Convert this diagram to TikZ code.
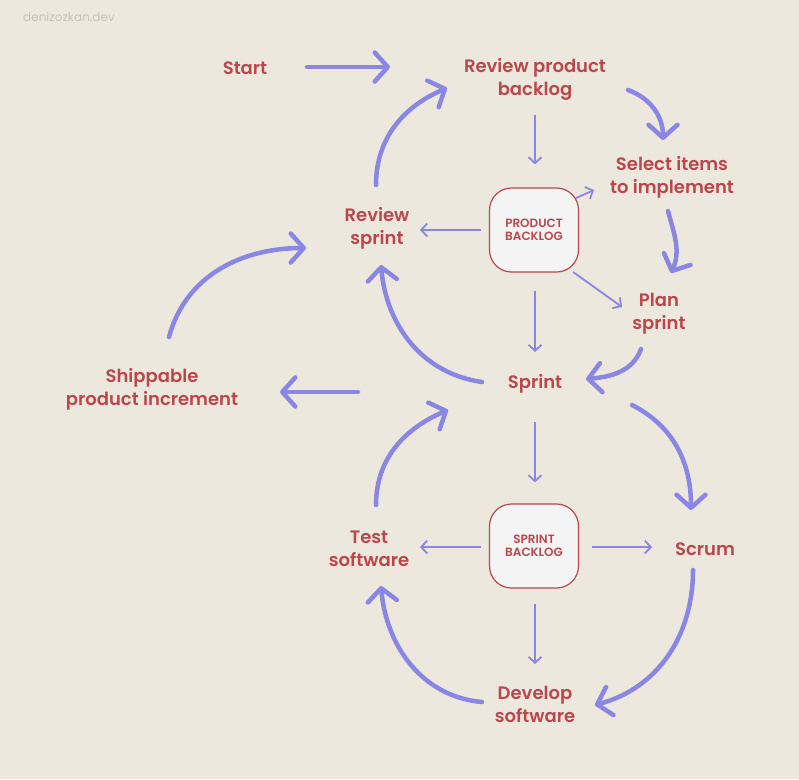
\documentclass[tikz,border=0pt]{standalone}
\usepackage{fontspec}
\setmainfont{Poppins}[BoldFont={Poppins SemiBold}]
\usepackage{tikz}
\usetikzlibrary{arrows.meta,calc}
\definecolor{paper}{HTML}{EDE8DD}
\definecolor{stepred}{HTML}{B9474B}
\definecolor{flowblue}{HTML}{8A86E3}
\definecolor{boxfill}{HTML}{F4F4F4}
\definecolor{markgrey}{HTML}{C8C3B9}

\begin{document}
\begin{tikzpicture}[
    x=1pt, y=1pt,
    stage/.style={text=stepred, font=\bfseries\fontsize{18}{23}\selectfont, align=center, inner sep=0pt},
    backlog/.style={draw=stepred, fill=boxfill, line width=1.2pt, rounded corners=22pt, minimum width=89pt, minimum height=84pt, text=stepred, font=\bfseries\fontsize{12}{13.5}\selectfont, align=center},
    bigflow/.style={flowblue, line width=4.5pt, line cap=round, -{Straight Barb[length=13pt, width=29pt, line cap=round, line join=round]}},
    smallflow/.style={flowblue, line width=1.8pt, -{Straight Barb[length=6pt, width=13pt]}}
]
\fill[paper] (0,0) rectangle (799,-779);
\useasboundingbox (0,0) rectangle (799,-779);
\node[text=markgrey, font=\fontsize{12}{14}\selectfont, anchor=west, inner sep=0pt] (mark) at (23,-17) {denizozkan.dev};

\node[stage] (start) at (245,-68) {Start};
\node[stage] (rpb) at (535,-79) {Review product\\backlog};
\node[stage] (select) at (672,-177) {Select items\\to implement};
\node[stage] (plan) at (659,-314) {Plan\\sprint};
\node[stage] (rsprint) at (377,-228) {Review\\sprint};
\node[stage] (sprint) at (535,-384) {Sprint};
\node[stage] (ship) at (152,-389) {Shippable\\product increment};
\node[stage] (test) at (369,-549) {Test\\software};
\node[stage] (scrum) at (705,-549) {Scrum};
\node[stage] (develop) at (535,-704) {Develop\\software};
\node[backlog] (pb) at (534,-230) {PRODUCT\\BACKLOG};
\node[backlog] (sb) at (534,-546) {SPRINT\\BACKLOG};

\draw[bigflow] ($(start)+(62,1)$) -- ($(rpb)+(-145,12)$);
\draw[bigflow] ($(rsprint)+(-1,43)$) to[out=90, in=203] ($(rpb)+(-88,-9)$);
\draw[bigflow] ($(rpb)+(93,-11)$) to[out=-20, in=90] ($(select)+(-9,37)$);
\draw[bigflow] ($(select)+(-4,-34)$) to[out=-75, in=66] ($(plan)+(12,41)$);
\draw[bigflow] ($(plan)+(-18,-35)$) to[out=-110, in=5] ($(sprint)+(51,5)$);
\draw[bigflow] ($(sprint)+(-53,2)$) to[out=172, in=-85] ($(rsprint)+(4,-37)$);
\draw[bigflow] ($(ship)+(17,52)$) to[out=75, in=180] ($(rsprint)+(-71,-20)$);
\draw[bigflow] ($(sprint)+(-177,-8)$) -- ($(ship)+(128,-3)$);
\draw[bigflow] ($(test)+(7,44)$) to[out=90, in=203] ($(sprint)+(-87,-26)$);
\draw[bigflow] ($(sprint)+(97,-21)$) to[out=-27, in=90] ($(scrum)+(-14,39)$);
\draw[bigflow] ($(scrum)+(-12,-21)$) to[out=-90, in=15] ($(develop)+(60,-1)$);
\draw[bigflow] ($(develop)+(-53,2)$) to[out=175, in=-85] ($(test)+(12,-37)$);

\draw[smallflow] ($(rpb)+(0,-36)$) -- ($(pb.north)+(1,23)$);
\draw[smallflow] ($(pb.west)+(-8,0)$) -- ($(rsprint)+(43,-2)$);
\draw[smallflow] ($(pb.east)+(-3,32)$) -- ($(select)+(-78,-13)$);
\draw[smallflow] ($(pb.east)+(-6,-42)$) -- ($(plan)+(-37,7)$);
\draw[smallflow] ($(pb.south)+(1,-18)$) -- ($(sprint)+(0,32)$);
\draw[smallflow] ($(sprint)+(0,-38)$) -- ($(sb.north)+(1,21)$);
\draw[smallflow] ($(sb.west)+(-8,-1)$) -- ($(test)+(51,2)$);
\draw[smallflow] ($(sb.east)+(13,-1)$) -- ($(scrum)+(-53,2)$);
\draw[smallflow] ($(sb.south)+(1,-15)$) -- ($(develop)+(0,40)$);
\end{tikzpicture}
\end{document}
